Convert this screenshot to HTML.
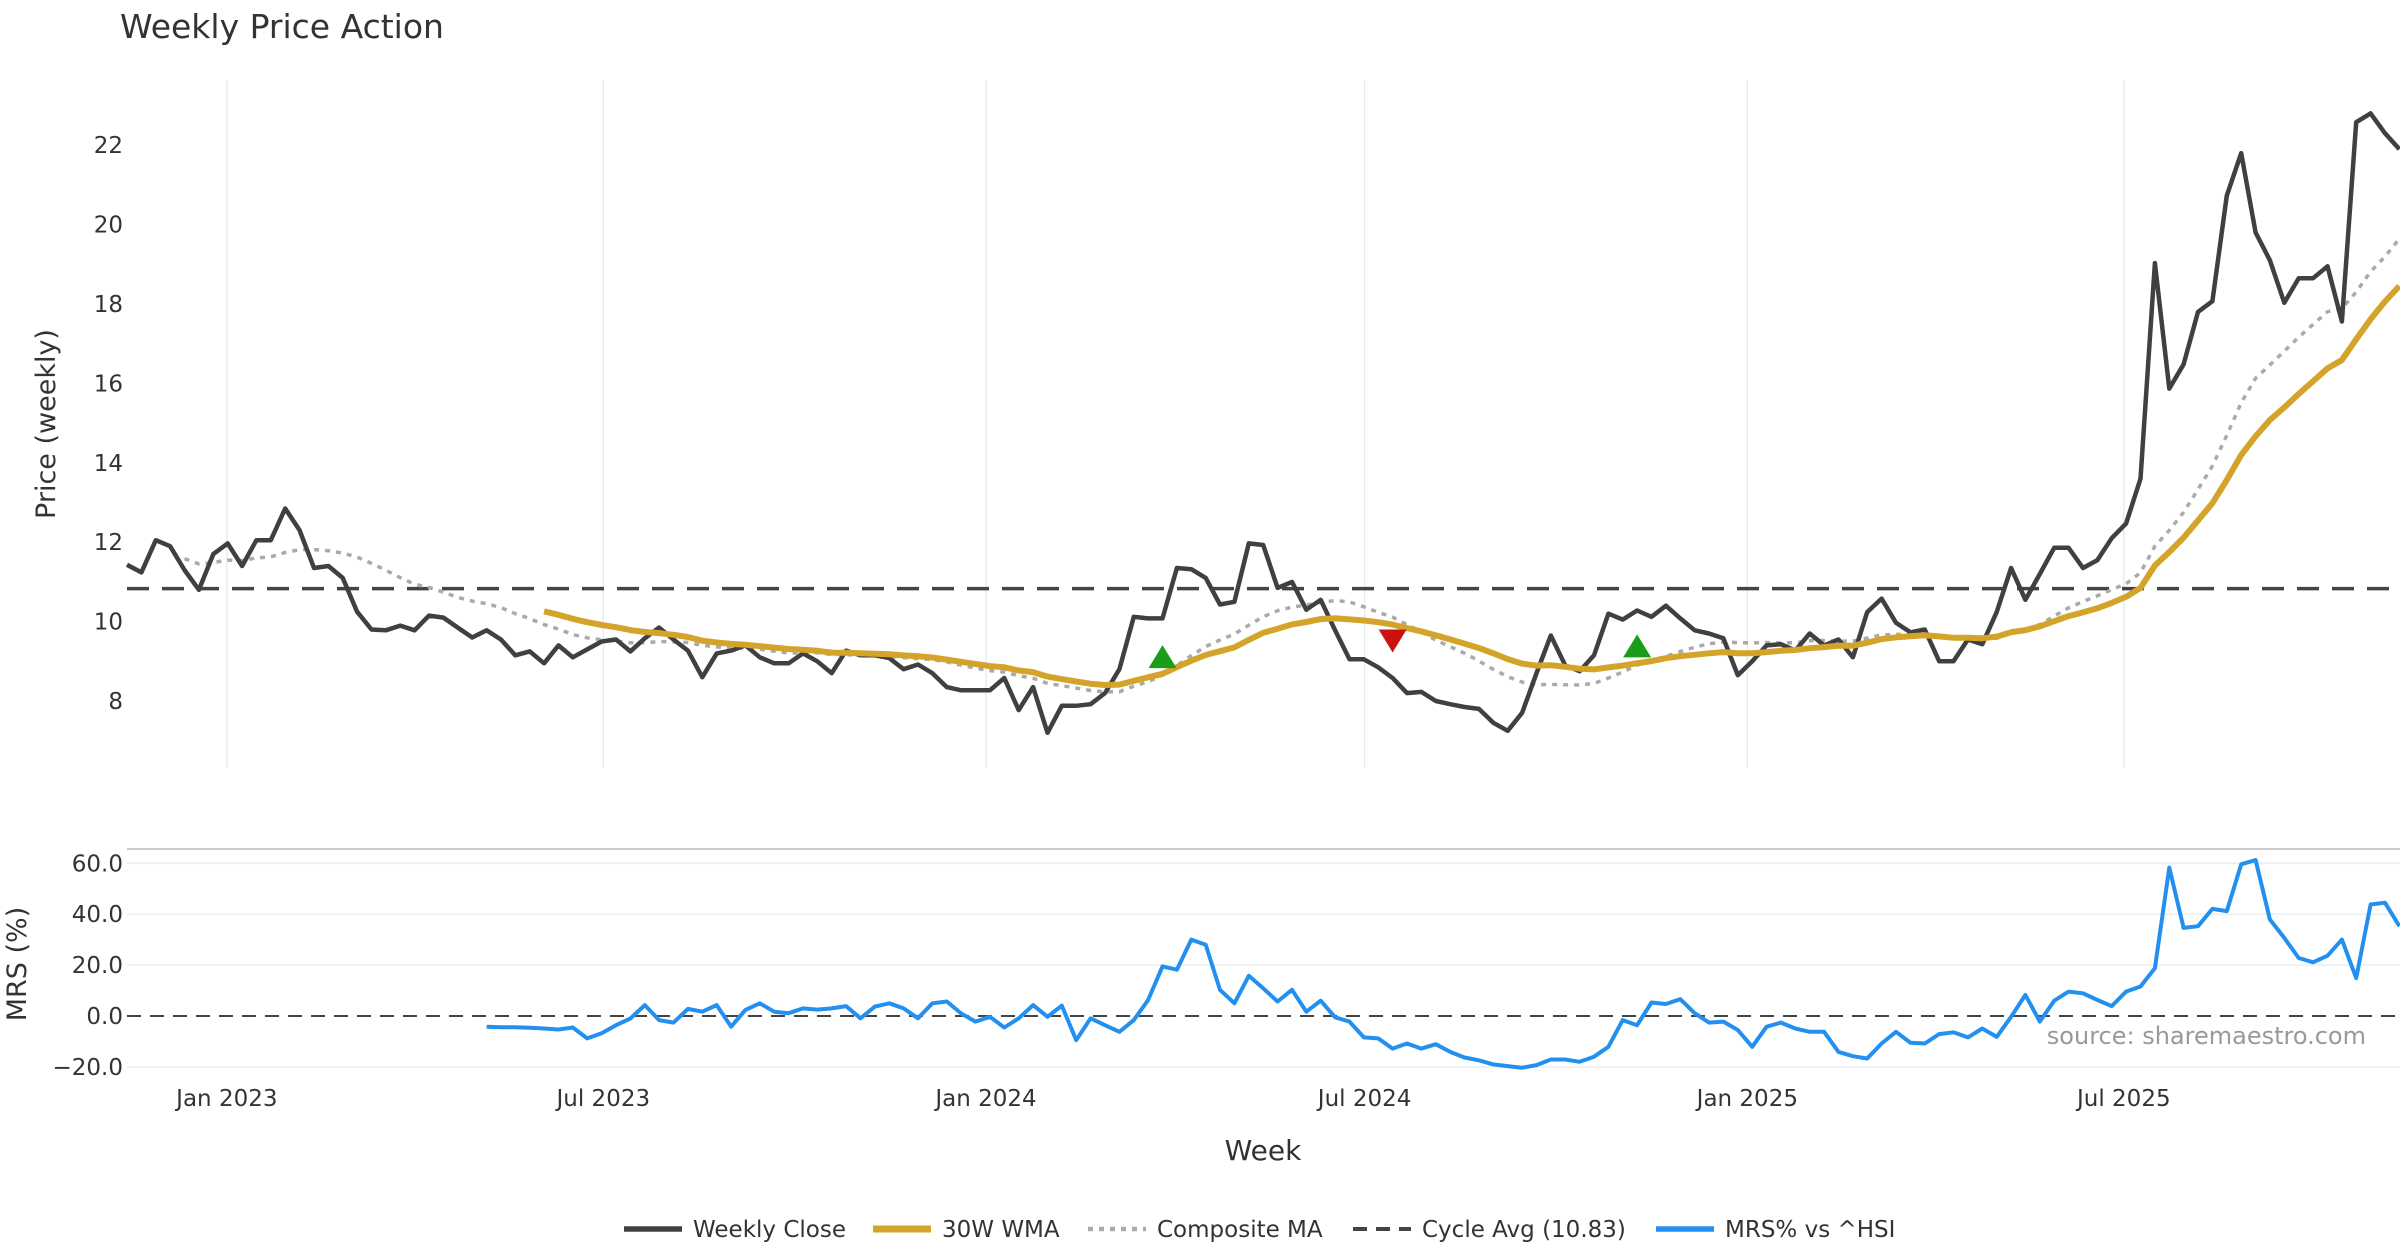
<!DOCTYPE html>
<html><head><meta charset="utf-8"><style>
html,body{margin:0;padding:0;background:#fff}
svg{display:block;font-family:"DejaVu Sans","Liberation Sans",sans-serif}
</style></head><body>
<svg id="chart" width="2400" height="1260" viewBox="0 0 2400 1260" xmlns="http://www.w3.org/2000/svg">
<text x="120" y="38" font-size="33" fill="#333">Weekly Price Action</text>
<text transform="translate(55,424) rotate(-90)" text-anchor="middle" font-size="27" fill="#333">Price (weekly)</text>
<text transform="translate(26,964) rotate(-90)" text-anchor="middle" font-size="27" fill="#333">MRS (%)</text>
<text x="1263" y="1160" text-anchor="middle" font-size="28" fill="#333">Week</text>
<text x="2366" y="1044" text-anchor="end" font-size="24" fill="#999">source: sharemaestro.com</text>
<g id="grid"></g><g id="main"></g><g id="lower"></g><g id="xt"></g>
<g id="legend"></g>
</svg>
<script>
const closes=[11.43,11.24,12.05,11.9,11.3,10.8,11.7,11.97,11.4,12.05,12.05,12.85,12.3,11.35,11.4,11.1,10.25,9.8,9.78,9.9,9.78,10.15,10.1,9.85,9.6,9.78,9.55,9.15,9.25,8.95,9.4,9.1,9.3,9.5,
9.55,9.25,9.58,9.85,9.55,9.27,8.6,9.2,9.27,9.4,9.1,8.95,8.95,9.2,9.0,8.7,9.27,9.15,9.15,9.08,8.8,8.92,8.7,8.35,8.27,8.27,8.27,8.58,7.77,8.35,7.2,7.88,7.88,7.92,8.2,8.8,10.12,10.08,10.08,11.35,11.32,11.1,10.43,10.5,11.97,11.93,10.85,11.0,10.3,10.55,9.78,9.05,9.05,8.85,8.58,8.2,8.23,8.0,7.92,7.85,7.8,
7.45,7.25,7.7,8.7,9.65,8.9,8.75,9.15,10.2,10.05,10.28,10.12,10.4,10.08,9.78,9.7,9.58,8.65,9.0,9.4,9.43,9.27,9.7,9.4,9.55,9.1,10.24,10.58,9.97,9.73,9.8,9.0,9.0,9.55,9.43,10.24,11.35,10.55,11.2,11.86,11.86,11.35,11.55,12.1,12.47,13.6,19.03,15.87,16.48,17.8,18.07,20.73,21.8,19.8,19.1,18.03,18.65,18.65,18.95,17.56,22.58,22.8,22.3,21.9];
const mrs=[-4.2,-4.4,-4.4,-4.6,-4.9,-5.3,-4.5,-8.8,-6.8,-3.6,-1.0,4.3,-1.6,-2.6,2.8,1.7,4.3,-4.2,2.4,5.0,1.7,1.1,3.0,2.5,3.0,3.9,-0.9,3.7,5.0,3.0,-0.9,5.0,5.7,1.0,-2.2,-0.3,-4.5,-0.9,4.3,-0.3,4.1,-9.5,-0.9,-3.6,-6.2,-1.6,6.3,19.5,18.2,30,28,10.3,5.0,15.8,10.9,5.7,10.3,1.7,6.0,-0.5,-2.2,-8.4,-8.8,-12.8,-10.8,-12.8,-11.1,-14.1,-16.3,-17.4,-19.0,-19.7,-20.3,-19.3,-17.1,-17.1,-18,-16,-12.1,-1.6,-3.6,5.3,4.7,6.6,1.1,-2.6,-2.2,-5.5,-12.1,-4.2,-2.6,-4.9,-6.2,-6.2,-14.1,-15.8,-16.7,-10.8,-6.2,-10.5,-10.8,-7.1,-6.4,-8.4,-4.9,-8.2,-0.3,8.3,-2.2,6.0,9.6,8.9,6.3,3.9,9.6,11.6,18.8,58.3,34.6,35.3,42.1,41.2,59.6,61.3,37.9,30.7,22.8,21.1,23.7,30,14.9,43.8,44.5,35.3];
const cycleAvg=10.83;
const signalIdx=[72,88,105];
const signalVal=[9.08,9.55,9.35];
const signalDir=['up','down','up'];
const priceTicks=[8,10,12,14,16,18,20,22];
const mrsTicks=[60,40,20,0,-20];
const dateTicks=['2023-01-01','2023-07-01','2024-01-01','2024-07-01','2025-01-01','2025-07-01'];
const dateLabels=['Jan 2023','Jul 2023','Jan 2024','Jul 2024','Jan 2025','Jul 2025'];

const NS='http://www.w3.org/2000/svg';
const X0=127, STEP=(2385-127)/157;
const x=i=>X0+i*STEP;
const yP=v=>701-(v-8)*39.7;
const yM=v=>1016-v*2.545;
const firstDate=new Date('2022-11-14');
const xDate=s=>127+((new Date(s)-firstDate)/(7*864e5))*14.56;
function mk(tag,attrs,parent){const e=document.createElementNS(NS,tag);for(const k in attrs)e.setAttribute(k,attrs[k]);document.getElementById(parent).appendChild(e);return e;}
function path(arr,start,fy){let d='';arr.forEach((v,k)=>{if(v==null)return;d+=(d?'L':'M')+x(start+k).toFixed(1)+','+fy(v).toFixed(1);});return d;}

dateTicks.forEach((d,k)=>{
  const gx=xDate(d);
  const g=mk('line',{x1:gx,x2:gx,y1:80,y2:768,stroke:'#e6ecf0','stroke-width':1.5},'grid');
  
  
  const t=mk('text',{x:gx,y:1106,'text-anchor':'middle','font-size':23,fill:'#333'},'xt');
  t.textContent=dateLabels[k];
  
  
});
priceTicks.forEach(v=>{
  const t=mk('text',{x:123,y:yP(v)+8,'text-anchor':'end','font-size':23,fill:'#333'},'grid');
  t.textContent=v;
  
  
});
const bl=mk('line',{x1:127,x2:2400,y1:849,y2:849,stroke:'#ccc','stroke-width':2},'grid');


mrsTicks.forEach(v=>{
  if(v!==0){const l=mk('line',{x1:127,x2:2400,y1:yM(v),y2:yM(v),stroke:'#eef2f5','stroke-width':2},'grid');
  
  }
  const t=mk('text',{x:123,y:yM(v)+8,'text-anchor':'end','font-size':23,fill:'#333'},'grid');
  t.textContent=(v<0?'\u2212'+Math.abs(v).toFixed(1):v.toFixed(1));
  
  
});

function sma(i,n){const s=Math.max(0,i-n+1);let t=0;for(let j=s;j<=i;j++)t+=closes[j];return t/(i-s+1);}
const wma=closes.map((v,i)=>{if(i<29)return null;let t=0,w=0;for(let j=0;j<30;j++){t+=closes[i-j]*(30-j);w+=30-j;}return t/w;});
const comp=closes.map((v,i)=>i<4?null:(sma(i,8)+sma(i,16)+sma(i,20))/3);

const cy=mk('line',{x1:127,x2:2400,y1:yP(cycleAvg),y2:yP(cycleAvg),stroke:'#444','stroke-width':3.5,'stroke-dasharray':'22,13'},'main');


const cp=mk('path',{d:path(comp,0,yP),fill:'none',stroke:'#aaa','stroke-width':3.5,'stroke-dasharray':'5,6'},'main');


const cl=mk('path',{d:path(closes,0,yP),fill:'none',stroke:'#404040','stroke-width':4.5,'stroke-linejoin':'round'},'main');


const wl=mk('path',{d:path(wma,0,yP),fill:'none',stroke:'#d4a42a','stroke-width':6,'stroke-linejoin':'round'},'main');


signalIdx.forEach((idx,k)=>{
  const cx=x(idx),cyv=yP(signalVal[k]);
  const pts=signalDir[k]==='up'?`${cx-14},${cyv+10} ${cx+14},${cyv+10} ${cx},${cyv-13}`:`${cx-14},${cyv-10} ${cx+14},${cyv-10} ${cx},${cyv+13}`;
  const t=mk('polygon',{points:pts,fill:signalDir[k]==='up'?'#1a9e1a':'#cc1111'},'main');
  
  
});

const z=mk('line',{x1:127,x2:2400,y1:yM(0),y2:yM(0),stroke:'#444','stroke-width':2,'stroke-dasharray':'14,9'},'lower');


const ms=closes.length-mrs.length;
const ml=mk('path',{d:path(mrs,ms,yM),fill:'none',stroke:'#2390f0','stroke-width':4,'stroke-linejoin':'round'},'lower');



const items=[['Weekly Close','#404040','',4.5],['30W WMA','#d4a42a','',6],['Composite MA','#aaa','5,6',3.5],['Cycle Avg (10.83)','#444','14,9',3],['MRS% vs ^HSI','#2390f0','',4.5]];
const lx=[624,873,1088,1353,1656];
items.forEach((it,k)=>{
  const l=mk('line',{x1:lx[k],x2:lx[k]+58,y1:1229,y2:1229,stroke:it[1],'stroke-width':it[3]+1,'stroke-dasharray':it[2]},'legend');
  
  
  const t=mk('text',{x:lx[k]+69,y:1237,'font-size':23,fill:'#333'},'legend');
  t.textContent=it[0];
  
  
});
</script>
</body></html>
